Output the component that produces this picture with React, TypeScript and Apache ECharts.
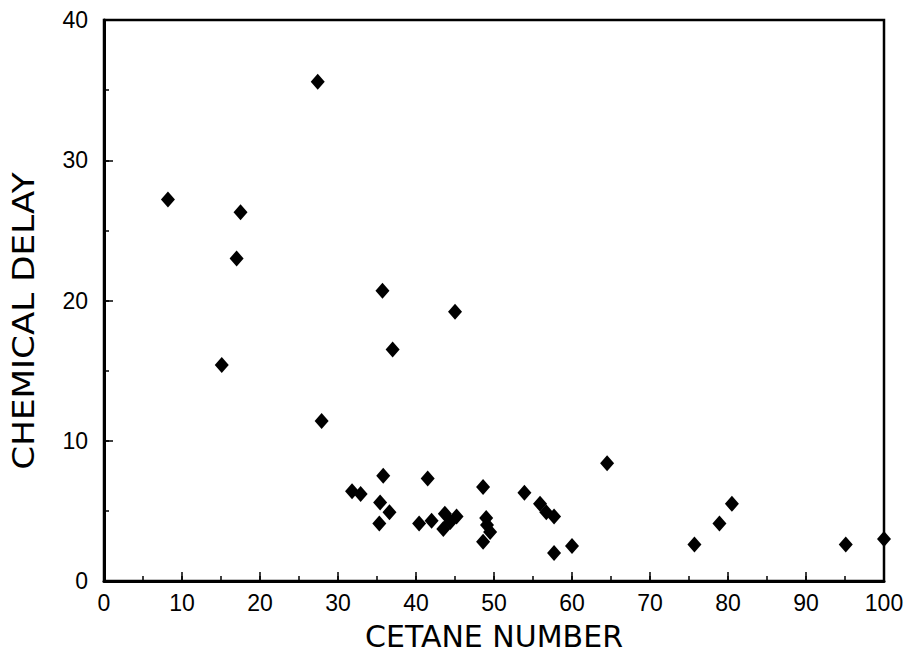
import React, { useEffect, useRef } from "react";
import * as echarts from "echarts";

const cetaneNumber = [
  8.2, 27.4, 17.5, 17.0, 35.7, 45.0, 37.0, 15.1, 27.9,
  35.8, 31.8, 32.9, 35.4, 36.6, 35.3,
  41.5, 40.4, 42.0, 43.7, 43.5, 45.2, 44.4,
  48.6, 49.0, 49.1, 49.5, 48.6,
  53.9, 55.9, 56.7, 57.7, 57.7, 60.0,
  64.5, 75.7, 78.9, 80.5, 95.1, 100.0,
];
const chemicalDelay = [
  27.2, 35.6, 26.3, 23.0, 20.7, 19.2, 16.5, 15.4, 11.4,
  7.5, 6.4, 6.2, 5.6, 4.9, 4.1,
  7.3, 4.1, 4.3, 4.8, 3.7, 4.6, 4.2,
  6.7, 4.5, 4.0, 3.5, 2.8,
  6.3, 5.5, 4.9, 4.6, 2.0, 2.5,
  8.4, 2.6, 4.1, 5.5, 2.6, 3.0,
];
const xTicks = [0, 10, 20, 30, 40, 50, 60, 70, 80, 90, 100];
const yTicks = [0, 10, 20, 30, 40];
const xName = "CETANE NUMBER";
const yName = "CHEMICAL DELAY";

export default function App() {
  const ref = useRef<HTMLDivElement>(null);
  useEffect(() => {
    document.body.style.margin = "0";
    if (!ref.current) return;
    const chart = echarts.init(ref.current, undefined, { renderer: "svg" });
    const data = cetaneNumber.map((x, i) => [x, chemicalDelay[i]]);
    const labelFont = "Liberation Sans";
    const nameFont = "DejaVu Sans";
    const xMin = xTicks[0];
    const xMax = xTicks[xTicks.length - 1];
    const yMin = yTicks[0];
    const yMax = yTicks[yTicks.length - 1];
    const minorX = {
      type: "value",
      min: xMin,
      max: xMax,
      interval: 5,
      position: "bottom",
      axisLine: { show: false },
      axisTick: { show: true, inside: true, length: 5, lineStyle: { color: "#000", width: 1.5 } },
      axisLabel: { show: false },
      splitLine: { show: false },
    };
    const minorY = {
      type: "value",
      min: yMin,
      max: yMax,
      interval: 5,
      position: "left",
      axisLine: { show: false },
      axisTick: { show: true, inside: true, length: 5, lineStyle: { color: "#000", width: 1.5 } },
      axisLabel: { show: false },
      splitLine: { show: false },
    };
    chart.setOption({
      animation: false,
      backgroundColor: "#ffffff",
      grid: {
        left: 104,
        right: 28,
        top: 20,
        bottom: 76,
        show: true,
        borderColor: "#000",
        borderWidth: 2.5,
        containLabel: false,
        outerBoundsMode: "none",
      },
      graphic: [
        {
          type: "text",
          x: 24,
          y: 321,
          rotation: Math.PI / 2,
          scaleX: 1.14,
          style: {
            text: yName,
            font: `30px "${nameFont}"`,
            fill: "#000",
            align: "center",
            verticalAlign: "middle",
          },
        },
      ],
      xAxis: [
        {
          type: "value",
          min: xMin,
          max: xMax,
          interval: 10,
          position: "bottom",
          name: xName,
          nameLocation: "middle",
          nameGap: 40,
          nameTextStyle: { fontFamily: nameFont, fontSize: 30, color: "#000" },
          axisLine: { show: true, onZero: false, lineStyle: { color: "#000", width: 3 } },
          axisTick: { show: true, inside: true, length: 9, lineStyle: { color: "#000", width: 1.5 } },
          axisLabel: { fontFamily: labelFont, fontSize: 23, color: "#000", margin: 10 },
          splitLine: { show: false },
        },
        minorX,
      ],
      yAxis: [
        {
          type: "value",
          min: yMin,
          max: yMax,
          interval: 10,
          position: "left",
          axisLine: { show: true, onZero: false, lineStyle: { color: "#000", width: 3 } },
          axisTick: { show: true, inside: true, length: 9, lineStyle: { color: "#000", width: 1.5 } },
          axisLabel: { fontFamily: labelFont, fontSize: 23, color: "#000", margin: 16 },
          splitLine: { show: false },
        },
        minorY,
      ],
      series: [
        {
          type: "scatter",
          xAxisIndex: 0,
          yAxisIndex: 0,
          data,
          symbol: "diamond",
          symbolSize: [14, 16],
          itemStyle: { color: "#000", opacity: 1 },
        },
      ],
    });
    return () => chart.dispose();
  }, []);
  return <div ref={ref} style={{ width: 912, height: 657 }} />;
}
